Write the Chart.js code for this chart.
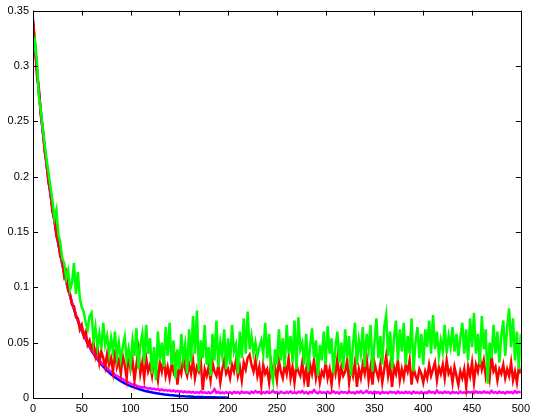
<!DOCTYPE html>
<html>
<head>
<meta charset="utf-8">
<script src="https://cdn.jsdelivr.net/npm/chart.js@4.4.1/dist/chart.umd.min.js"></script>
<style>
  html, body { margin: 0; padding: 0; background: #fff; }
  #wrap { width: 534px; height: 419px; }
</style>
</head>
<body>
<div id="wrap"><canvas id="plot" width="534" height="419"></canvas></div>
<script>
// x spacing of the sampled series
const noisyStep = 2;
const blueStep = 5;

const xTicks = [0, 50, 100, 150, 200, 250, 300, 350, 400, 450, 500];
const yTicks = [0, 0.05, 0.1, 0.15, 0.2, 0.25, 0.3, 0.35];

// green: x = 0, 2, 4 ... 500
const greenValues = [
    0.312, 0.322, 0.305, 0.272, 0.260, 0.244, 0.229, 0.215, 0.203, 0.190,
    0.178, 0.162, 0.170, 0.148, 0.140, 0.126, 0.122, 0.108, 0.115, 0.098,
    0.104, 0.122, 0.094, 0.114, 0.090, 0.082, 0.078, 0.068, 0.062, 0.074,
    0.077, 0.052, 0.064, 0.046, 0.058, 0.044, 0.068, 0.048, 0.056, 0.040,
    0.054, 0.042, 0.060, 0.037, 0.050, 0.035, 0.046, 0.055, 0.034, 0.044,
    0.030, 0.052, 0.038, 0.063, 0.026, 0.048, 0.058, 0.032, 0.066, 0.040,
    0.054, 0.022, 0.046, 0.016, 0.060, 0.034, 0.050, 0.028, 0.064, 0.038,
    0.068, 0.030, 0.052, 0.018, 0.044, 0.026, 0.058, 0.036, 0.048, 0.022,
    0.062, 0.032, 0.074, 0.040, 0.079, 0.024, 0.052, 0.036, 0.066, 0.030,
    0.046, 0.020, 0.058, 0.034, 0.070, 0.028, 0.050, 0.038, 0.062, 0.026,
    0.054, 0.030, 0.066, 0.042, 0.048, 0.022, 0.060, 0.036, 0.072, 0.040,
    0.078, 0.044, 0.056, 0.040, 0.050, 0.038, 0.046, 0.052, 0.040, 0.068,
    0.036, 0.058, 0.024, 0.015, 0.044, 0.030, 0.062, 0.034, 0.054, 0.028,
    0.066, 0.040, 0.056, 0.032, 0.070, 0.026, 0.073, 0.044, 0.050, 0.030,
    0.058, 0.024, 0.046, 0.063, 0.036, 0.052, 0.020, 0.048, 0.034, 0.060,
    0.030, 0.065, 0.040, 0.054, 0.022, 0.046, 0.060, 0.032, 0.050, 0.026,
    0.062, 0.036, 0.056, 0.020, 0.048, 0.068, 0.030, 0.052, 0.040, 0.064,
    0.028, 0.058, 0.044, 0.066, 0.024, 0.050, 0.072, 0.036, 0.056, 0.030,
    0.064, 0.075, 0.038, 0.060, 0.026, 0.054, 0.070, 0.034, 0.062, 0.042,
    0.068, 0.030, 0.056, 0.040, 0.072, 0.024, 0.050, 0.064, 0.036, 0.058,
    0.030, 0.062, 0.046, 0.070, 0.040, 0.075, 0.044, 0.060, 0.038, 0.052,
    0.042, 0.066, 0.040, 0.056, 0.046, 0.064, 0.042, 0.058, 0.038, 0.054,
    0.068, 0.040, 0.062, 0.034, 0.072, 0.046, 0.077, 0.040, 0.058, 0.030,
    0.074, 0.044, 0.062, 0.013, 0.050, 0.036, 0.066, 0.040, 0.060, 0.032,
    0.056, 0.070, 0.038, 0.064, 0.081, 0.046, 0.072, 0.034, 0.060, 0.026,
    0.058
];

// red: x = 0, 2, 4 ... 500
const redValues = [
    0.342, 0.322, 0.292, 0.280, 0.255, 0.244, 0.222, 0.212, 0.194, 0.186,
    0.168, 0.162, 0.146, 0.141, 0.128, 0.124, 0.110, 0.114, 0.097, 0.094,
    0.084, 0.083, 0.073, 0.072, 0.062, 0.066, 0.056, 0.060, 0.048, 0.052,
    0.044, 0.050, 0.038, 0.046, 0.032, 0.042, 0.036, 0.028, 0.040, 0.030,
    0.036, 0.024, 0.044, 0.028, 0.034, 0.022, 0.038, 0.030, 0.018, 0.040,
    0.026, 0.034, 0.016, 0.030, 0.043, 0.022, 0.032, 0.018, 0.036, 0.024,
    0.030, 0.020, 0.034, 0.026, 0.016, 0.032, 0.024, 0.036, 0.020, 0.028,
    0.018, 0.030, 0.024, 0.034, 0.012, 0.028, 0.022, 0.036, 0.026, 0.020,
    0.030, 0.022, 0.034, 0.018, 0.028, 0.024, 0.032, 0.007, 0.026, 0.020,
    0.028, 0.016, 0.032, 0.024, 0.020, 0.030, 0.014, 0.026, 0.034, 0.022,
    0.026, 0.018, 0.030, 0.024, 0.034, 0.020, 0.028, 0.016, 0.032, 0.026,
    0.036, 0.039, 0.030, 0.024, 0.034, 0.020, 0.028, 0.012, 0.030, 0.022,
    0.026, 0.014, 0.032, 0.020, 0.028, 0.016, 0.034, 0.024, 0.018, 0.030,
    0.022, 0.036, 0.018, 0.028, 0.014, 0.030, 0.024, 0.020, 0.032, 0.016,
    0.026, 0.010, 0.030, 0.022, 0.034, 0.018, 0.028, 0.014, 0.024, 0.020,
    0.032, 0.018, 0.026, 0.012, 0.030, 0.022, 0.036, 0.016, 0.028, 0.020,
    0.024, 0.034, 0.014, 0.028, 0.020, 0.032, 0.010, 0.026, 0.018, 0.030,
    0.022, 0.036, 0.016, 0.028, 0.012, 0.032, 0.024, 0.018, 0.030, 0.014,
    0.026, 0.038, 0.020, 0.030, 0.010, 0.028, 0.022, 0.034, 0.016, 0.026,
    0.018, 0.030, 0.024, 0.034, 0.012, 0.028, 0.020, 0.016, 0.026, 0.022,
    0.014, 0.024, 0.018, 0.030, 0.020, 0.026, 0.032, 0.016, 0.028, 0.022,
    0.030, 0.018, 0.034, 0.022, 0.026, 0.014, 0.028, 0.020, 0.012, 0.024,
    0.018, 0.026, 0.010, 0.028, 0.020, 0.032, 0.014, 0.030, 0.024, 0.036,
    0.026, 0.034, 0.020, 0.030, 0.018, 0.038, 0.024, 0.028, 0.016, 0.026,
    0.022, 0.030, 0.018, 0.026, 0.020, 0.032, 0.016, 0.024, 0.014, 0.028,
    0.022
];

// magenta: x = 0, 2, 4 ... 500
const magentaValues = [
    0.338, 0.318, 0.297, 0.276, 0.258, 0.241, 0.225, 0.210, 0.196, 0.183,
    0.171, 0.159, 0.149, 0.139, 0.130, 0.121, 0.113, 0.106, 0.099, 0.092,
    0.086, 0.081, 0.075, 0.070, 0.066, 0.061, 0.057, 0.054, 0.050, 0.047,
    0.044, 0.041, 0.039, 0.036, 0.034, 0.032, 0.030, 0.029, 0.027, 0.025,
    0.024, 0.023, 0.021, 0.020, 0.019, 0.018, 0.017, 0.016, 0.015, 0.014,
    0.013, 0.012, 0.0125, 0.011, 0.0105, 0.010, 0.0095, 0.010, 0.009, 0.0085,
    0.009, 0.008, 0.0085, 0.0075, 0.008, 0.007, 0.0078, 0.0068, 0.0072, 0.0065,
    0.007, 0.006, 0.0068, 0.0058, 0.0064, 0.0055, 0.0062, 0.0052, 0.006, 0.005,
    0.0058, 0.0048, 0.0056, 0.0046, 0.0054, 0.0045, 0.0058, 0.0047, 0.0052, 0.0044,
    0.0052, 0.0043, 0.0055, 0.0080, 0.0046, 0.0054, 0.0042, 0.0050, 0.0044, 0.0053,
    0.0045, 0.0052, 0.0040, 0.0056, 0.0047, 0.0053, 0.0042, 0.0058, 0.0046, 0.0052,
    0.0050, 0.0041, 0.0056, 0.0046, 0.0062, 0.0048, 0.0054, 0.0040, 0.0052, 0.0045,
    0.0058, 0.0044, 0.0050, 0.0066, 0.0047, 0.0053, 0.0041, 0.0056, 0.0048, 0.0043,
    0.0055, 0.0046, 0.0060, 0.0044, 0.0051, 0.0042, 0.0057, 0.0049, 0.0063, 0.0045,
    0.0052, 0.0040, 0.0055, 0.0047, 0.0072, 0.0050, 0.0043, 0.0058, 0.0046, 0.0052,
    0.0044, 0.0056, 0.0042, 0.0050, 0.0061, 0.0045, 0.0053, 0.0040, 0.0057, 0.0048,
    0.0054, 0.0043, 0.0059, 0.0046, 0.0051, 0.0041, 0.0056, 0.0048, 0.0062, 0.0044,
    0.0050, 0.0066, 0.0045, 0.0055, 0.0042, 0.0058, 0.0047, 0.0053, 0.0040, 0.0056,
    0.0046, 0.0052, 0.0043, 0.0057, 0.0048, 0.0054, 0.0041, 0.0059, 0.0045, 0.0051,
    0.0044, 0.0056, 0.0047, 0.0053, 0.0040, 0.0058, 0.0046, 0.0052, 0.0042, 0.0055,
    0.0039, 0.0050, 0.0045, 0.0062, 0.0048, 0.0054, 0.0043, 0.0068, 0.0046, 0.0052,
    0.0044, 0.0057, 0.0048, 0.0053, 0.0041, 0.0056, 0.0047, 0.0052, 0.0043, 0.0058,
    0.0046, 0.0051, 0.0042, 0.0057, 0.0049, 0.0055, 0.0044, 0.0060, 0.0047, 0.0053,
    0.0045, 0.0058, 0.0048, 0.0052, 0.0043, 0.0065, 0.0047, 0.0054, 0.0044, 0.0059,
    0.0046, 0.0052, 0.0041, 0.0056, 0.0048, 0.0053, 0.0044, 0.0062, 0.0047, 0.0055,
    0.0050
];

// blue: x = 0, 5, 10 ... 200 (smooth decay)
const blueValues = [
    0.340, 0.2861, 0.2408, 0.2027, 0.1706, 0.1436, 0.1208, 0.1017, 0.0856, 0.0720,
    0.0606, 0.0510, 0.0429, 0.0361, 0.0304, 0.0256, 0.0215, 0.0181, 0.0153, 0.0128,
    0.0108, 0.0091, 0.0077, 0.0064, 0.0054, 0.0046, 0.0038, 0.0032, 0.0027, 0.0023,
    0.0019, 0.0016, 0.0014, 0.0011, 0.0010, 0.0008, 0.0007, 0.0006, 0.0005, 0.0004,
    0.0003
];

const toPoints = (values, step) => values.map((v, i) => ({ x: i * step, y: v }));

const lineStyle = (color) => ({
    borderColor: color,
    backgroundColor: color,
    borderWidth: 2.5,
    pointRadius: 0,
    tension: 0,
    fill: false,
});

// box with inward ticks on all four sides, like the original
const framePlugin = {
    id: "frame",
    afterDatasetsDraw(chart) {
        const { ctx, chartArea: a, scales } = chart;
        const tick = 5;
        ctx.save();
        ctx.strokeStyle = "#000";
        ctx.lineWidth = 1;
        ctx.beginPath();
        xTicks.forEach((v) => {
            const px = Math.round(scales.x.getPixelForValue(v)) + 0.5;
            ctx.moveTo(px, a.bottom);
            ctx.lineTo(px, a.bottom - tick);
            ctx.moveTo(px, a.top);
            ctx.lineTo(px, a.top + tick);
        });
        yTicks.forEach((v) => {
            const py = Math.round(scales.y.getPixelForValue(v)) + 0.5;
            ctx.moveTo(a.left, py);
            ctx.lineTo(a.left + tick, py);
            ctx.moveTo(a.right, py);
            ctx.lineTo(a.right - tick, py);
        });
        ctx.stroke();
        ctx.strokeRect(Math.round(a.left) + 0.5, Math.round(a.top) + 0.5,
            Math.round(a.right - a.left), Math.round(a.bottom - a.top));
        ctx.restore();
    },
};

const tickFont = { family: "'Liberation Sans', Arial, sans-serif", size: 11 };

new Chart(document.getElementById("plot"), {
    type: "line",
    data: {
        datasets: [
            { label: "green", data: toPoints(greenValues, noisyStep), ...lineStyle("#00ff00") },
            { label: "red", data: toPoints(redValues, noisyStep), ...lineStyle("#ff0000") },
            { label: "magenta", data: toPoints(magentaValues, noisyStep), ...lineStyle("#ff00ff") },
            { label: "blue", data: toPoints(blueValues, blueStep), ...lineStyle("#0000ff") },
        ],
    },
    options: {
        responsive: false,
        animation: false,
        events: [],
        layout: { padding: { left: 0, right: 9, top: 8, bottom: 0 } },
        plugins: { legend: { display: false }, tooltip: { enabled: false } },
        scales: {
            x: {
                type: "linear",
                min: 0,
                max: 500,
                grid: { display: false, drawTicks: false },
                border: { display: false },
                afterBuildTicks(scale) {
                    scale.ticks = xTicks.map((v) => ({ value: v }));
                },
                afterFit(scale) {
                    scale.height = 21;
                },
                ticks: {
                    color: "#000",
                    font: tickFont,
                    padding: 4,
                    maxRotation: 0,
                    autoSkip: false,
                    callback: (v) => String(v),
                },
            },
            y: {
                type: "linear",
                min: 0,
                max: 0.35,
                grid: { display: false, drawTicks: false },
                border: { display: false },
                afterBuildTicks(scale) {
                    scale.ticks = yTicks.map((v) => ({ value: v }));
                },
                afterFit(scale) {
                    scale.width = 33;
                },
                ticks: {
                    color: "#000",
                    font: tickFont,
                    padding: 4,
                    autoSkip: false,
                    callback: (v) => String(Math.round(v * 100) / 100),
                },
            },
        },
    },
    plugins: [framePlugin],
});
</script>
</body>
</html>
